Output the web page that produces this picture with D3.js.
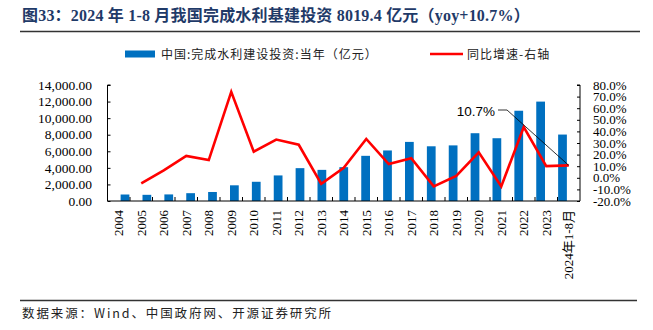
<!DOCTYPE html>
<html>
<head>
<meta charset="utf-8">
<script src="https://cdn.jsdelivr.net/npm/d3@7/dist/d3.min.js"></script>
<style>
  html, body { margin: 0; padding: 0; background: #fff; }
  svg { display: block; }
</style>
</head>
<body>
<svg id="chart" width="653" height="330"></svg>
<script>
// Annual water-conservancy construction investment (亿元) and YoY growth (%)
const categories = ["2004","2005","2006","2007","2008","2009","2010","2011","2012","2013",
  "2014","2015","2016","2017","2018","2019","2020","2021","2022","2023","2024年1-8月"];
const investment = [784, 746, 794, 944, 1088, 1894, 2320, 3086, 3964, 3758,
  4083, 5452, 6100, 7132, 6603, 6712, 8181, 7576, 10893, 11996, 8019.4];
const yoy = [null, -4.8, 6.4, 18.9, 15.3, 74.1, 22.5, 33.0, 28.5, -5.2,
  8.6, 33.5, 11.9, 16.9, -7.4, 1.7, 21.9, -7.4, 43.8, 10.1, 10.7];
const leftTicks = [0, 2000, 4000, 6000, 8000, 10000, 12000, 14000];
const rightTicks = [-20, -10, 0, 10, 20, 30, 40, 50, 60, 70, 80];

const titleText = "图33：2024 年 1-8 月我国完成水利基建投资 8019.4 亿元（yoy+10.7%）";
const legendBar = "中国:完成水利建设投资:当年（亿元）";
const legendLine = "同比增速-右轴";
const sourceText = "数据来源：Wind、中国政府网、开源证券研究所";
const calloutText = "10.7%";

const svg = d3.select("#chart");
const serif = "'Liberation Serif', 'Times New Roman', 'Noto Sans CJK SC', serif";
const cjk = "'Noto Sans CJK SC', 'Liberation Serif', sans-serif";

const plot = { left: 107.5, right: 580, top: 85, bottom: 201 };

const x = d3.scaleBand().domain(categories).range([plot.left, plot.right]).padding(0.6);
const xStep = d3.scaleBand().domain(categories).range([plot.left, plot.right]);
const yL = d3.scaleLinear().domain([0, 14000]).range([plot.bottom, plot.top]);
const yR = d3.scaleLinear().domain([-20, 80]).range([plot.bottom, plot.top]);

// Title and rules
svg.append("text")
  .attr("x", 22).attr("y", 21)
  .attr("font-family", serif).attr("font-weight", "bold")
  .attr("font-size", 16).attr("letter-spacing", 0.2).attr("fill", "#1f3a68")
  .text(titleText);
svg.append("line").attr("x1", 20).attr("x2", 640).attr("y1", 31.5).attr("y2", 31.5)
  .attr("stroke", "#333").attr("stroke-width", 1.5);
svg.append("line").attr("x1", 20).attr("x2", 637).attr("y1", 300.5).attr("y2", 300.5)
  .attr("stroke", "#333").attr("stroke-width", 1.5);
svg.append("text")
  .attr("x", 22).attr("y", 318)
  .attr("font-family", cjk).attr("font-size", 12.5).attr("letter-spacing", 1.9)
  .attr("fill", "#222")
  .text(sourceText);

// Legend
const lg = svg.append("g");
lg.append("rect").attr("x", 125).attr("y", 50.5).attr("width", 30).attr("height", 7)
  .attr("fill", "#0070C0");
lg.append("text").attr("x", 161).attr("y", 58.5)
  .attr("font-family", cjk).attr("font-size", 12).attr("letter-spacing", 1)
  .attr("fill", "#222").text(legendBar);
lg.append("line").attr("x1", 430).attr("x2", 463).attr("y1", 54).attr("y2", 54)
  .attr("stroke", "#FF0000").attr("stroke-width", 2.5);
lg.append("text").attr("x", 467).attr("y", 58.5)
  .attr("font-family", cjk).attr("font-size", 12).attr("letter-spacing", 1)
  .attr("fill", "#222").text(legendLine);

// Bars
svg.append("g").selectAll("rect").data(investment).join("rect")
  .attr("x", (d, i) => x(categories[i]))
  .attr("y", d => yL(d))
  .attr("width", x.bandwidth())
  .attr("height", d => yL(0) - yL(d))
  .attr("fill", "#0070C0");

// YoY line
const linePts = yoy.map((v, i) => [xStep(categories[i]) + xStep.bandwidth() / 2, v]);
const line = d3.line().defined(d => d[1] !== null).x(d => d[0]).y(d => yR(d[1]));
svg.append("path").datum(linePts)
  .attr("d", line).attr("fill", "none")
  .attr("stroke", "#FF0000").attr("stroke-width", 2.6).attr("stroke-linejoin", "miter");

// Left axis
const axL = d3.axisRight(yL).tickValues(leftTicks).tickSize(3).tickFormat(() => "");
const gL = svg.append("g").attr("transform", `translate(${plot.left},0)`).call(axL);
gL.select(".domain").attr("d", `M3,${plot.top}H0V${plot.bottom}`).attr("stroke", "#000");
gL.selectAll(".tick line").attr("stroke", "#000");
svg.append("g").selectAll("text").data(leftTicks).join("text")
  .attr("x", 92).attr("y", d => yL(d)).attr("dy", "0.35em")
  .attr("text-anchor", "end").attr("font-family", serif).attr("font-size", 13.5)
  .attr("fill", "#000")
  .text(d3.format(",.2f"));

// Right axis
const axR = d3.axisLeft(yR).tickValues(rightTicks).tickSize(3).tickFormat(() => "");
const gR = svg.append("g").attr("transform", `translate(${plot.right},0)`).call(axR);
gR.select(".domain").attr("d", `M-3,${plot.top}H0V${plot.bottom}`).attr("stroke", "#000");
gR.selectAll(".tick line").attr("stroke", "#000");
svg.append("g").selectAll("text").data(rightTicks).join("text")
  .attr("x", 593).attr("y", d => yR(d)).attr("dy", "0.35em")
  .attr("text-anchor", "start").attr("font-family", serif).attr("font-size", 13)
  .attr("fill", "#000")
  .text(d => d.toFixed(1) + "%");

// Category axis with inward ticks at band boundaries
svg.append("line").attr("x1", plot.left).attr("x2", plot.right)
  .attr("y1", plot.bottom).attr("y2", plot.bottom).attr("stroke", "#000");
const bounds = categories.slice(1).map(c => xStep(c));
svg.append("g").selectAll("line").data(bounds).join("line")
  .attr("x1", d => d).attr("x2", d => d)
  .attr("y1", plot.bottom - 4).attr("y2", plot.bottom)
  .attr("stroke", "#000");
svg.append("g").selectAll("text").data(categories).join("text")
  .attr("transform", c => `translate(${xStep(c) + xStep.bandwidth() / 2},210) rotate(-90)`)
  .attr("dy", "0.35em").attr("text-anchor", "end")
  .attr("font-family", serif).attr("font-size", 13).attr("fill", "#000")
  .text(c => c);

// Callout for the latest YoY value
const lastIdx = categories.length - 1;
const px = xStep(categories[lastIdx]) + xStep.bandwidth() / 2;
const py = yR(yoy[lastIdx]);
svg.append("path")
  .attr("d", `M498,110H507L${px},${py}`)
  .attr("fill", "none").attr("stroke", "#000").attr("stroke-width", 0.8);
svg.append("text").attr("x", 495).attr("y", 115.5)
  .attr("text-anchor", "end")
  .attr("font-family", "'Liberation Sans', Arial, sans-serif").attr("font-size", 13.5)
  .attr("fill", "#000").text(calloutText);
</script>
</body>
</html>
